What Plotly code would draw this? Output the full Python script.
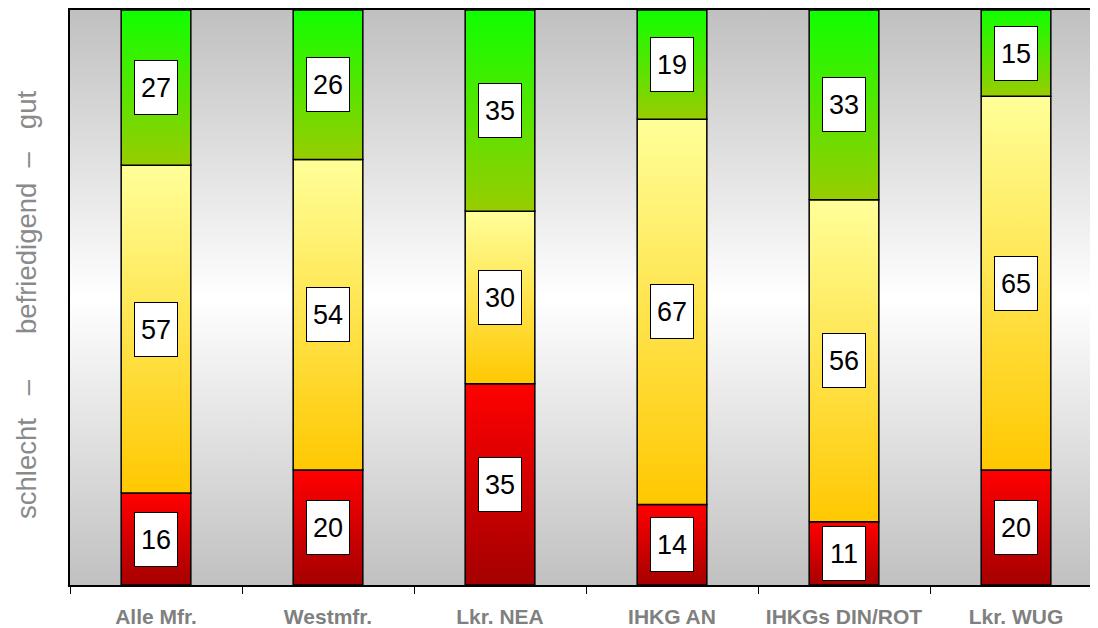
import plotly.graph_objects as go

# ---- data ----
categories = ["Alle Mfr.", "Westmfr.", "Lkr. NEA", "IHKG AN", "IHKGs DIN/ROT", "Lkr. WUG"]
schlecht = [16, 20, 35, 14, 11, 20]
befriedigend = [57, 54, 30, 67, 56, 65]
gut = [27, 26, 35, 19, 33, 15]
NB = "\u00a0"
y_title = ("schlecht" + NB * 3 + "\u2013" + NB * 6 + "befriedigend"
           + NB * 2 + "\u2013" + NB * 3 + "gut")

# ---- styles ----
series = [
    (schlecht, ["#A30000", "#FF0000"]),
    (befriedigend, ["#FFC800", "#FFFF99"]),
    (gut, ["#99CC00", "#10FF00"]),
]
BAR_W = 0.405
Y_MAX = 100
FONT = "Arial, Liberation Sans, sans-serif"

# page body has an 8px default margin -> figure is 8px smaller and margins compensate
ML, MR, MT, MB = 62, 0, 1, 42
W, H = 1090, 620
PLOT_W = W - ML - MR
CAT_PX = 172  # pixel width of one category slot in the reference

fig = go.Figure()

n = len(categories)
x_lo, x_hi = -0.5, n - 0.5

# background gradient (grey - white - grey)
fig.add_trace(go.Scatter(
    x=[x_lo, x_hi, x_hi, x_lo, x_lo], y=[0, 0, Y_MAX, Y_MAX, 0],
    fill="toself", mode="none",
    fillgradient=dict(type="vertical",
                      colorscale=[[0, "#C0C0C0"], [0.5, "#FFFFFF"], [1, "#C0C0C0"]],
                      start=0, stop=Y_MAX),
    hoverinfo="skip", showlegend=False))

annotations = []
base = [0] * n
for values, (c_bottom, c_top) in series:
    for i, v in enumerate(values):
        y0, y1 = base[i], base[i] + v
        xl, xr = i - BAR_W / 2, i + BAR_W / 2
        fig.add_trace(go.Scatter(
            x=[xl, xr, xr, xl, xl], y=[y0, y0, y1, y1, y0],
            fill="toself", mode="lines",
            line=dict(color="black", width=1.5),
            fillgradient=dict(type="vertical",
                              colorscale=[[0, c_bottom], [1, c_top]],
                              start=y0, stop=y1),
            hoverinfo="skip", showlegend=False))
        annotations.append(dict(
            x=i, y=(y0 + y1) / 2, xref="x", yref="y", text=str(v),
            showarrow=False, font=dict(family=FONT, size=27, color="black"),
            bgcolor="white", bordercolor="black", borderwidth=1,
            width=38, height=49, borderpad=2))
        base[i] = y1

annotations.append(dict(
    x=(19 - ML) / PLOT_W, y=0.487, xref="paper", yref="paper", text=y_title,
    textangle=-90, showarrow=False, xanchor="center", yanchor="middle",
    font=dict(family=FONT, size=27.5, color="#8A8A8A")))

fig.update_layout(
    width=W, height=H,
    margin=dict(l=ML, r=MR, t=MT, b=MB),
    paper_bgcolor="white", plot_bgcolor="white",
    showlegend=False,
    annotations=annotations,
    xaxis=dict(range=[x_lo, x_lo + PLOT_W / CAT_PX], tickmode="array",
               tickvals=list(range(n)), ticktext=categories,
               ticks="outside", ticklen=12, tickcolor="rgba(0,0,0,0)",
               showgrid=False, zeroline=False,
               showline=True, linecolor="black", linewidth=1.5, mirror=True,
               tickfont=dict(family=FONT, size=21, color="#808080", weight="bold"),
               minor=dict(tickmode="array",
                          tickvals=[i - 0.5 for i in range(n + 1)],
                          ticks="outside", ticklen=7, tickcolor="black",
                          tickwidth=1, showgrid=False)),
    yaxis=dict(range=[0, Y_MAX], showticklabels=False, ticks="", showgrid=False,
               zeroline=False, showline=True, linecolor="black", linewidth=1.5),
)

fig.write_html("out.html")
